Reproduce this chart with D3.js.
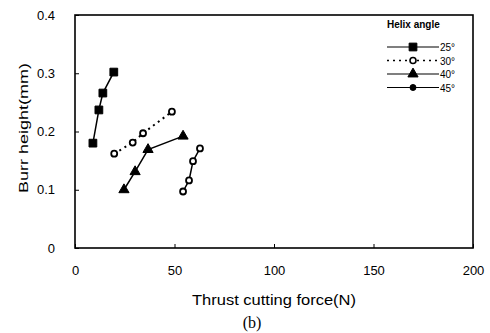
<!DOCTYPE html>
<meta charset="utf-8">
<style>
    body { margin: 0; background: #fff; }
    svg { font-family: "Liberation Sans", Arial, sans-serif; }
    .axis text { font-size: 13px; fill: #000; }
    .axis path, .axis line { stroke: #000; }
</style>
<body>
<svg width="490" height="333"></svg>
</body>
<script src="https://cdn.jsdelivr.net/npm/d3@7"></script>
<script>

    // thrust force (N) vs burr height (mm), one pair of arrays per helix angle
    var angles = ["25°", "30°", "40°", "45°"];
    var force25 = [9, 12, 14, 19.5];
    var burr25 = [0.18, 0.237, 0.266, 0.302];
    var force30 = [19.7, 29, 34.2, 48.7];
    var burr30 = [0.162, 0.181, 0.197, 0.234];
    var force40 = [24.6, 30.2, 36.7, 54.3];
    var burr40 = [0.1, 0.131, 0.169, 0.192];
    var force45 = [54.3, 57.3, 59.3, 62.8];
    var burr45 = [0.097, 0.116, 0.149, 0.171];
    var xTicks = [0, 50, 100, 150, 200];
    var yTicks = [0, 0.1, 0.2, 0.3, 0.4];

    var series = [
        {name: angles[0], x: force25, y: burr25, symbol: "square", dash: null, fill: "#000"},
        {name: angles[1], x: force30, y: burr30, symbol: "circle", dash: "2,4", fill: "#fff"},
        {name: angles[2], x: force40, y: burr40, symbol: "triangle", dash: null, fill: "#000"},
        {name: angles[3], x: force45, y: burr45, symbol: "circle", dash: null, fill: "#fff"}
    ];

    var svg = d3.select("svg");
    var plotL = 75, plotR = 473, plotT = 15, plotB = 248;

    var x = d3.scaleLinear().domain([0, 200]).range([plotL, plotR]);
    var y = d3.scaleLinear().domain([0, 0.4]).range([plotB, plotT]);

    function symbolPath(type) {
        if (type === "square") return d3.symbol(d3.symbolSquare, 60)();
        if (type === "triangle") return d3.symbol(d3.symbolTriangle, 45)();
        return d3.symbol(d3.symbolCircle, 28)();
    }

    // axes with inward ticks
    svg.append("g").attr("class", "axis")
        .attr("transform", "translate(0," + plotB + ")")
        .call(d3.axisBottom(x).tickValues(xTicks).tickSize(-4).tickPadding(18).tickFormat(d3.format("d")))
        .call(function (g) { g.select(".domain").remove(); });

    svg.append("g").attr("class", "axis")
        .attr("transform", "translate(" + plotL + ",0)")
        .call(d3.axisLeft(y).tickValues(yTicks).tickSize(-4).tickPadding(20)
            .tickFormat(function (d) { return d === 0 ? "0" : d3.format(".1f")(d); }))
        .call(function (g) { g.select(".domain").remove(); });

    // frame
    svg.append("rect")
        .attr("x", plotL).attr("y", plotT)
        .attr("width", plotR - plotL).attr("height", plotB - plotT)
        .attr("fill", "none").attr("stroke", "#000").attr("stroke-width", 1.6);

    var line = d3.line()
        .x(function (d) { return x(d[0]); })
        .y(function (d) { return y(d[1]); });

    series.forEach(function (s) {
        var pts = d3.zip(s.x, s.y);
        svg.append("path")
            .datum(pts)
            .attr("d", line)
            .attr("fill", "none")
            .attr("stroke", "#000")
            .attr("stroke-width", s.dash ? 2 : 1.5)
            .attr("stroke-dasharray", s.dash);
        svg.selectAll(null)
            .data(pts)
            .enter().append("path")
            .attr("d", symbolPath(s.symbol))
            .attr("transform", function (d) { return "translate(" + x(d[0]) + "," + y(d[1]) + ")"; })
            .attr("fill", s.fill)
            .attr("stroke", "#000")
            .attr("stroke-width", s.fill === "#fff" ? 1.8 : 1);
    });

    // legend
    var legend = svg.append("g").attr("transform", "translate(387,0)");
    legend.append("text")
        .attr("x", 0).attr("y", 28)
        .style("font-size", "10px").style("font-weight", "bold")
        .text("Helix angle");

    var rows = legend.selectAll(".row")
        .data(series)
        .enter().append("g")
        .attr("class", "row")
        .attr("transform", function (d, i) { return "translate(0," + (47 + i * 13.5) + ")"; });

    rows.append("line")
        .attr("x1", 0).attr("x2", 52)
        .attr("stroke", "#000")
        .attr("stroke-width", function (d) { return d.dash ? 1.5 : 1.2; })
        .attr("stroke-dasharray", function (d) { return d.dash; });
    rows.append("path")
        .attr("transform", "translate(26,0)")
        .attr("d", function (d) { return symbolPath(d.symbol); })
        .attr("fill", function (d, i) { return i === 3 ? "#000" : d.fill; })
        .attr("stroke", "#000")
        .attr("stroke-width", function (d, i) { return i === 1 ? 1.6 : 1; });
    rows.append("text")
        .attr("x", 53).attr("y", 4)
        .style("font-size", "10px")
        .text(function (d) { return d.name; });

    // axis titles
    svg.append("text")
        .attr("x", 192).attr("y", 305)
        .attr("textLength", 164).attr("lengthAdjust", "spacingAndGlyphs")
        .style("font-size", "14px")
        .text("Thrust cutting force(N)");

    svg.append("text")
        .attr("transform", "translate(28,193) rotate(-90)")
        .attr("textLength", 130).attr("lengthAdjust", "spacingAndGlyphs")
        .style("font-size", "13px")
        .text("Burr height(mm)");

    svg.append("text")
        .attr("x", 252).attr("y", 328)
        .attr("text-anchor", "middle")
        .style("font-family", "'Liberation Serif', 'Times New Roman', serif")
        .style("font-size", "16px")
        .text("(b)");

</script>
